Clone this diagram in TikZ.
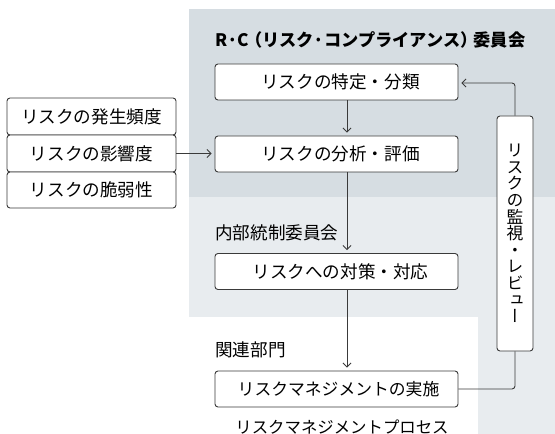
\documentclass[tikz,border=0pt]{standalone}
\usepackage{fontspec}
\setmainfont{Noto Sans CJK JP}
\newfontfamily\vertfont{Noto Sans CJK JP}[RawFeature=+vert]
\usetikzlibrary{arrows.meta}
\definecolor{rcgray}{HTML}{D6DDE2}
\definecolor{icgray}{HTML}{E8ECEF}
\definecolor{linegray}{HTML}{3A3A3A}
\begin{document}
\begin{tikzpicture}[x=1pt,y=1pt,
    box/.style={draw=linegray,line width=0.9pt,rounded corners=3pt,fill=white,minimum width=243pt,minimum height=36pt,inner sep=0pt,font=\fontsize{17.6}{20}\selectfont},
    factor/.style={box,minimum width=169pt,minimum height=37pt},
    flow/.style={draw=linegray,line width=0.9pt,shorten >=3pt,-{Straight Barb[length=4pt,width=8pt]}},
    group/.style={anchor=west,inner sep=0pt,font=\fontsize{17.6}{20}\selectfont}]
        % Background areas
        \useasboundingbox (0,0) rectangle (555,434);
        \fill[icgray] (189,237) -- (555,237) -- (555,0) -- (478,0) -- (478,117) -- (189,117) -- cycle;
        \fill[rcgray] (189,237) rectangle (555,425);
        % Group labels
        \node[group,font=\bfseries\fontsize{17.2}{20}\selectfont] (rc) at (215,394) {R·C\kern-4pt（リスク·コンプライアンス）\kern-4pt委員会};
        \node[group] (ic) at (215,201) {内部統制委員会};
        \node[group] (dept) at (215,84) {関連部門};
        % Process steps
        \node[box] (ident) at (336.5,352) {\hspace{8pt}リスクの特定・分類};
        \node[box] (anal) at (336.5,280) {\hspace{8pt}リスクの分析・評価};
        \node[box] (resp) at (336.5,162.5) {\hspace{8pt}リスクへの対策・対応};
        \node[box,font=\fontsize{16.8}{20}\selectfont] (impl) at (336.5,45) {\hspace{4pt}リスクマネジメントの実施};
        \node[font=\fontsize{16.4}{20}\selectfont] (proc) at (342,7) {リスクマネジメントプロセス};
        % Factors
        \node[factor] (freq) at (91.5,317.5) {リスクの発生頻度};
        \node[factor] (infl) at (91.5,280.5) {リスクの影響度};
        \node[factor,minimum height=36pt] (vuln) at (91.5,244) {リスクの脆弱性};
        % Monitoring
        \node[box,minimum width=36pt,minimum height=235pt,align=center,font=\vertfont\fontsize{16.8}{16.6}\selectfont] (mon) at (515,200.5) {リ\\ス\\ク\\の\\監\\視\\・\\レ\\ビ\\ュ\\ー};
        % Arrows
        \draw[flow] ([xshift=10.5pt]ident.south) -- ([xshift=10.5pt]anal.north);
        \draw[flow] ([xshift=10.5pt]anal.south) -- ([xshift=10.5pt]resp.north);
        \draw[flow] ([xshift=10.5pt]resp.south) -- ([xshift=10.5pt]impl.north);
        \draw[flow] (infl.east) -- (infl.east -| anal.west);
        % Feedback loop
        \draw[draw=linegray,line width=0.9pt,rounded corners=3pt] (impl.east) -| (mon.south);
        \draw[flow,rounded corners=3pt] (mon.north) |- ([yshift=-1pt]ident.east);
    \end{tikzpicture}
\end{document}
